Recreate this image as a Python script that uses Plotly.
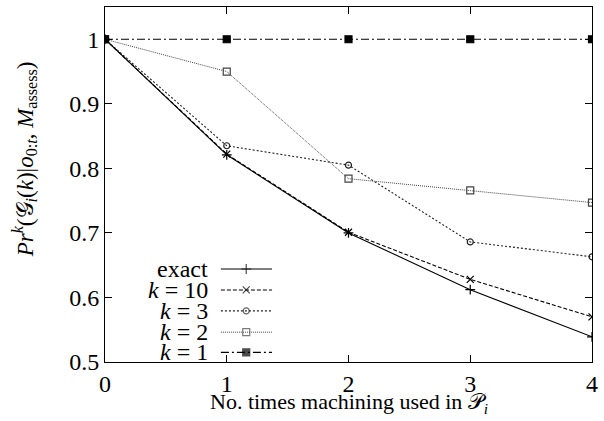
import plotly.graph_objects as go

x_vals = [0, 1, 2, 3, 4]
exact = [1.0, 0.821, 0.700, 0.612, 0.539]
k10 = [1.0, 0.822, 0.701, 0.628, 0.570]
k3 = [1.0, 0.835, 0.805, 0.686, 0.663]
k2 = [1.0, 0.950, 0.784, 0.766, 0.747]
k1 = [1.0, 1.0, 1.0, 1.0, 1.0]

series_names = ["exact", "<i>k</i> = 10", "<i>k</i> = 3", "<i>k</i> = 2", "<i>k</i> = 1"]
series_vals = [exact, k10, k3, k2, k1]
styles = [
    dict(dash="solid", symbol="cross-thin", color="black", width=1.1, size=7),
    dict(dash="4px,2px", symbol="x-thin", color="black", width=1.1, size=7),
    dict(dash="2px,2px", symbol="circle-open", color="#222", width=1.1, size=6),
    dict(dash="1px,1px", symbol="square-open", color="#444", width=1.0, size=7),
    dict(dash="8px,3px,2px,3px", symbol="square", color="black", width=1.1, size=7),
]

FONT = "serif"
fig = go.Figure()
for name, vals, st in zip(series_names, series_vals, styles):
    fig.add_trace(go.Scatter(
        x=x_vals, y=vals, mode="lines+markers", showlegend=False,
        line=dict(color=st["color"], width=st["width"], dash=st["dash"]),
        marker=dict(symbol=st["symbol"], size=st["size"], color=st["color"],
                    line=dict(color=st["color"], width=1.2)),
    ))

# custom legend (text left of sample, as in reference)
leg_y = [0.262, 0.203, 0.144, 0.084, 0.027]
for name, st, yy in zip(series_names, styles, leg_y):
    fig.add_trace(go.Scatter(
        x=[0.238, 0.290, 0.343], y=[yy, yy, yy], xaxis="x2", yaxis="y2",
        mode="lines+markers", showlegend=False, hoverinfo="skip",
        line=dict(color=st["color"], width=st["width"], dash=st["dash"]),
        marker=dict(symbol=st["symbol"], size=[0, st["size"], 0], color=st["color"],
                    line=dict(color=st["color"], width=1.2)),
    ))
    fig.add_annotation(xref="x2", yref="y2", x=0.215, y=yy, text=name,
                       showarrow=False, xanchor="right", yanchor="middle",
                       font=dict(family=FONT, size=24))

# axis titles
fig.add_annotation(xref="paper", yref="paper", x=0.50, y=-0.115,
                   text="No. times machining used in 𝒫<sub><i>i</i></sub>",
                   showarrow=False, xanchor="center", yanchor="middle",
                   font=dict(family=FONT, size=22))
fig.add_annotation(xref="paper", yref="paper", x=-0.165, y=0.57, textangle=-90,
                   text="<i>Pr</i><sup><i>k</i></sup>(𝒢<sub><i>i</i></sub>(<i>k</i>)|<i>o</i><sub>0:<i>t</i></sub>, <i>M</i><sub>assess</sub>)",
                   showarrow=False, xanchor="center", yanchor="middle",
                   font=dict(family=FONT, size=23))

axis_common = dict(showgrid=False, zeroline=False, showline=True, linecolor="black",
                   linewidth=1, mirror="allticks", ticks="inside", ticklen=7,
                   tickcolor="black", automargin=False,
                   tickfont=dict(family=FONT, size=24))
fig.update_layout(
    width=604, height=421,
    margin=dict(l=105, r=12, t=7, b=59),
    font=dict(family=FONT, color="black"),
    paper_bgcolor="white", plot_bgcolor="white",
    xaxis=dict(range=[0, 4], tickvals=[0, 1, 2, 3, 4], **axis_common),
    yaxis=dict(range=[0.5, 1.05], tickvals=[0.5, 0.6, 0.7, 0.8, 0.9, 1.0],
               ticktext=["0.5", "0.6", "0.7", "0.8", "0.9", "1"], **axis_common),
    xaxis2=dict(range=[0, 1], overlaying="x", visible=False, automargin=False),
    yaxis2=dict(range=[0, 1], overlaying="y", visible=False, automargin=False),
)
fig.write_html("out.html", config={"displayModeBar": False},
               post_script="document.body.style.margin='0';")
